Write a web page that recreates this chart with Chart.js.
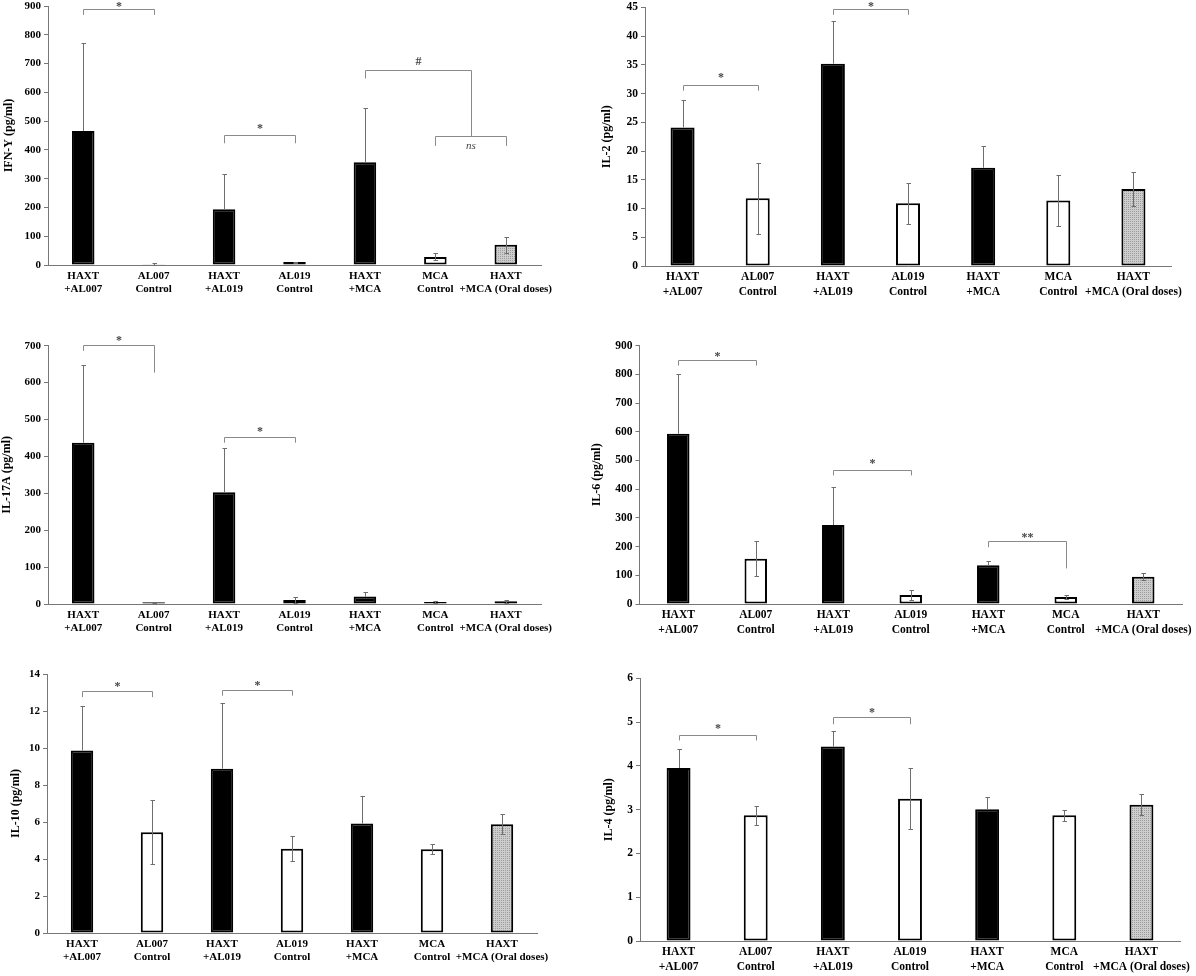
<!DOCTYPE html>
<html><head><meta charset="utf-8">
<script src="https://cdn.jsdelivr.net/npm/chart.js@4.4.1/dist/chart.umd.min.js"></script>
<style>
html,body{margin:0;padding:0;background:#fff;overflow:hidden;}
#page{position:relative;width:1196px;height:976px;overflow:hidden;background:#fff;}
.panel{position:absolute;}
.panel canvas{display:block;}
</style></head><body><div id="page"></div>
<script>
// ---------- data ----------
const categories = [['HAXT','+AL007'],['AL007','Control'],['HAXT','+AL019'],['AL019','Control'],['HAXT','+MCA'],['MCA','Control'],['HAXT','+MCA (Oral doses)']];

const ifnMean = [466, 3, 194, 10, 357, 28, 70];
const ifnErr  = [307, 3, 122, 2, 190, 12, 27];
const ifnTicks = [0,100,200,300,400,500,600,700,800,900];
// [from, to, lineValue, leftEnd, rightEnd, label, labelValue]
const ifnBrackets = [[0,1,889,869,869,'*',905],[2,3,451,423,423,'*',481],[4,5.5,677,648,447,'#',709],[5,6,447,414,414,'ns',411]];

const il2Mean = [24.1, 11.8, 35.2, 10.9, 17.1, 11.4, 13.4];
const il2Err  = [4.8, 6.2, 7.5, 3.55, 3.7, 4.5, 3.0];
const il2Ticks = [0,5,10,15,20,25,30,35,40,45];
const il2Brackets = [[0,1,31.4,30.5,30.5,'*',33.2],[2,3,44.7,43.7,43.7,'*',45.5]];

const il17Mean = [437, 4.5, 303, 11, 20, 5.5, 7.5];
const il17Err  = [212, 1.5, 121, 7, 13, 1.5, 3.5];
const il17Ticks = [0,100,200,300,400,500,600,700];
const il17Brackets = [[0,1,702,686,627,'*',720],[2,3,452,437,437,'*',473]];

const il6Mean = [593, 158, 275, 31, 135, 24, 95];
const il6Err  = [207, 62, 132, 18, 14, 6.5, 12];
const il6Ticks = [0,100,200,300,400,500,600,700,800,900];
const il6Brackets = [[0,1,849,831,831,'*',871],[2,3,467,448,448,'*',495],[4,5,220,198,124,'**',239]];

const il10Mean = [9.87, 5.45, 8.88, 4.55, 5.92, 4.53, 5.88];
const il10Err  = [2.38, 1.72, 3.57, 0.68, 1.51, 0.26, 0.53];
const il10Ticks = [0,2,4,6,8,10,12,14];
const il10Brackets = [[0,1,13.06,12.75,12.75,'*',13.44],[2,3,13.15,12.83,12.83,'*',13.5]];

const il4Mean = [3.95, 2.87, 4.44, 3.25, 3.01, 2.87, 3.11];
const il4Err  = [0.44, 0.21, 0.36, 0.69, 0.27, 0.12, 0.24];
const il4Ticks = [0,1,2,3,4,5,6];
const il4Brackets = [[0,1,4.71,4.58,4.58,'*',4.89],[2,3,5.11,4.95,4.95,'*',5.26]];

// ---------- styling / layout ----------
const FONT = "'Liberation Serif', 'Times New Roman', serif";
const barKinds = ['dark','light','dark','light','dark','light','dotted'];

function dottedPattern(){
  const c = document.createElement('canvas'); c.width = 2; c.height = 2;
  const g = c.getContext('2d');
  g.fillStyle = '#cdcdcd'; g.fillRect(0,0,2,2);
  g.fillStyle = '#9c9c9c'; g.fillRect(0,0,1,1);
  return g.createPattern(c, 'repeat');
}
const pattern = dottedPattern();
const fillFor = k => k === 'dark' ? '#000' : (k === 'light' ? '#fff' : pattern);

const panels = [
  {title:'IFN-Y (pg/ml)', mean:ifnMean, err:ifnErr, ticks:ifnTicks, br:ifnBrackets,
   L:{x0:48, x1:541, yTop:6, yBot:265, titleX:9, fs:11, cp:0.32}},
  {title:'IL-2 (pg/ml)', mean:il2Mean, err:il2Err, ticks:il2Ticks, br:il2Brackets,
   L:{x0:645, x1:1171, yTop:7.3, yBot:265.7, titleX:607, fs:11.5, cp:0.32}},
  {title:'IL-17A (pg/ml)', mean:il17Mean, err:il17Err, ticks:il17Ticks, br:il17Brackets,
   L:{x0:48, x1:541, yTop:345.7, yBot:604.3, titleX:7, fs:11, cp:0.32}},
  {title:'IL-6 (pg/ml)', mean:il6Mean, err:il6Err, ticks:il6Ticks, br:il6Brackets,
   L:{x0:639.5, x1:1182, yTop:345.7, yBot:604.3, titleX:597, fs:11.5, cp:0.29}},
  {title:'IL-10 (pg/ml)', mean:il10Mean, err:il10Err, ticks:il10Ticks, br:il10Brackets,
   L:{x0:47, x1:537, yTop:674, yBot:932.7, titleX:16, fs:11, cp:0.32}},
  {title:'IL-4 (pg/ml)', mean:il4Mean, err:il4Err, ticks:il4Ticks, br:il4Brackets,
   L:{x0:640, x1:1180, yTop:678.3, yBot:940.7, titleX:609, fs:11.5, cp:0.31}}
];

const page = document.getElementById('page');
const TITLE_FS = 12;

function xAt(chart, v){
  const xs = chart.scales.x;
  const a = Math.floor(v), b = Math.ceil(v);
  const pa = xs.getPixelForValue(a), pb = xs.getPixelForValue(b);
  return pa + (pb - pa) * (v - a);
}

function makePanel(p){
  const L = p.L, fs = L.fs;
  const padTop = 14, padRight = 28, xH = 46;
  const left = Math.round(L.titleX - (TITLE_FS*1.2/2 + 4));
  const top = Math.round(L.yTop - padTop);
  const yW = L.x0 - left;
  const width = Math.round(L.x1 + padRight - left);
  const height = Math.round(L.yBot + xH - top);
  const realPadTop = L.yTop - top;
  const wrap = document.createElement('div');
  wrap.className = 'panel';
  wrap.style.left = left + 'px'; wrap.style.top = top + 'px';
  wrap.style.width = width + 'px'; wrap.style.height = height + 'px';
  const cv = document.createElement('canvas');
  cv.width = width; cv.height = height;
  cv.style.width = width + 'px'; cv.style.height = height + 'px';
  wrap.appendChild(cv); page.appendChild(wrap);

  const errPlugin = {
    id: 'errbars',
    afterDatasetsDraw(chart){
      const ctx = chart.ctx, ys = chart.scales.y;
      const meta = chart.getDatasetMeta(0);
      ctx.save();
      ctx.strokeStyle = '#6e6e6e'; ctx.lineWidth = 1;
      meta.data.forEach((bar, i) => {
        const m = p.mean[i], e = p.err[i];
        const x = Math.round(bar.x) + 0.5;
        const yt = Math.round(ys.getPixelForValue(m + e)) + 0.5;
        const yb = Math.round(ys.getPixelForValue(Math.max(m - e, 0))) + 0.5;
        const dark = barKinds[i] === 'dark';
        const low = dark ? bar.y : yb;
        ctx.beginPath();
        ctx.moveTo(x, yt); ctx.lineTo(x, low);
        ctx.moveTo(x - 2, yt); ctx.lineTo(x + 2.5, yt);
        if (!dark) { ctx.moveTo(x - 2, yb); ctx.lineTo(x + 2.5, yb); }
        ctx.stroke();
      });
      ctx.restore();
    }
  };

  const bracketPlugin = {
    id: 'brackets',
    afterDraw(chart){
      const ctx = chart.ctx, ys = chart.scales.y;
      ctx.save();
      p.br.forEach(b => {
        const [f, t, yv, le, re, label, lv] = b;
        const xl = Math.round(xAt(chart, f)) + 0.5, xr = Math.round(xAt(chart, t)) + 0.5;
        const y = Math.round(ys.getPixelForValue(yv)) + 0.5;
        ctx.strokeStyle = '#8a8a8a'; ctx.lineWidth = 1;
        ctx.beginPath();
        ctx.moveTo(xl, ys.getPixelForValue(le)); ctx.lineTo(xl, y);
        ctx.lineTo(xr, y); ctx.lineTo(xr, ys.getPixelForValue(re));
        ctx.stroke();
        const italic = label === 'ns';
        ctx.font = (italic ? 'italic 11px ' : 'bold 12px ') + FONT;
        ctx.fillStyle = '#454545';
        ctx.textAlign = 'center'; ctx.textBaseline = 'alphabetic';
        const mt = ctx.measureText(label);
        const cy = ys.getPixelForValue(lv);
        const base = cy + (mt.actualBoundingBoxAscent - mt.actualBoundingBoxDescent) / 2;
        ctx.fillText(label, (xl + xr) / 2, base);
      });
      ctx.restore();
    }
  };

  const tickFont = {family: FONT, weight: 'bold', size: fs, lineHeight: 1.25};
  const maxV = p.ticks[p.ticks.length - 1];
  const step = p.ticks[1] - p.ticks[0];

  new Chart(cv, {
    type: 'bar',
    data: {
      labels: categories,
      datasets: [{
        data: p.mean,
        backgroundColor: barKinds.map(fillFor),
        borderColor: '#000',
        borderWidth: 2,
        borderSkipped: false,
        barPercentage: 1,
        categoryPercentage: L.cp
      }]
    },
    options: {
      responsive: false,
      animation: false,
      devicePixelRatio: 1,
      layout: {padding: {top: realPadTop, right: padRight, left: 0, bottom: 0}},
      plugins: {legend: {display: false}, tooltip: {enabled: false}},
      scales: {
        x: {
          grid: {display: true, drawOnChartArea: false, drawTicks: false},
          border: {display: true, color: '#777', width: 1},
          ticks: {color: '#000', font: tickFont, padding: 4, autoSkip: false, maxRotation: 0, minRotation: 0},
          afterFit(s){ s.height = xH; }
        },
        y: {
          min: 0, max: maxV,
          ticks: {stepSize: step, color: '#000', font: {family: FONT, weight: 'bold', size: fs}, padding: 3},
          grid: {display: true, drawOnChartArea: false, drawTicks: true, tickLength: 4, tickColor: '#777'},
          border: {display: true, color: '#777', width: 1},
          title: {display: true, text: p.title, color: '#000', font: {family: FONT, weight: 'bold', size: TITLE_FS}},
          afterFit(s){ s.width = yW; }
        }
      }
    },
    plugins: [errPlugin, bracketPlugin]
  });
}

panels.forEach(makePanel);
</script>
</body></html>
